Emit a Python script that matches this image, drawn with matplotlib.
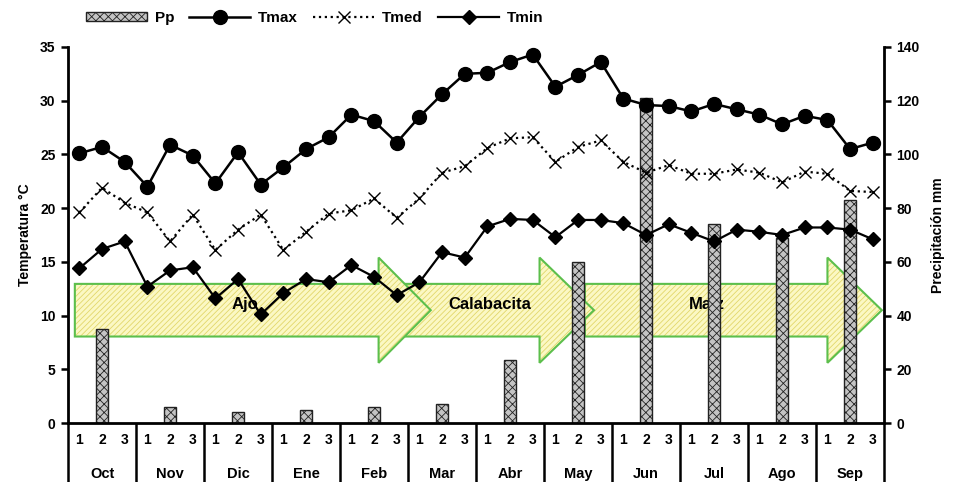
import matplotlib.pyplot as plt
from matplotlib.patches import Polygon
import numpy as np

plt.rcParams['font.family'] = ['Liberation Sans', 'DejaVu Sans']
plt.rcParams['font.weight'] = 'bold'
plt.rcParams['hatch.linewidth'] = 0.6

months = ['Oct', 'Nov', 'Dic', 'Ene', 'Feb', 'Mar', 'Abr', 'May', 'Jun', 'Jul', 'Ago', 'Sep']
dekads = ['1', '2', '3']

tmax = [25.1, 25.7, 24.3, 22.0, 25.9, 24.9, 22.3, 25.2, 22.2, 23.8, 25.5, 26.6,
        28.7, 28.1, 26.1, 28.5, 30.6, 32.5, 32.6, 33.6, 34.3, 31.3, 32.4, 33.6,
        30.2, 29.6, 29.5, 29.0, 29.7, 29.2, 28.7, 27.8, 28.6, 28.2, 25.5, 26.1]
tmed = [19.6, 21.9, 20.5, 19.6, 16.9, 19.4, 16.1, 18.0, 19.4, 16.1, 17.8, 19.5,
        19.8, 20.9, 19.1, 20.9, 23.3, 23.9, 25.6, 26.5, 26.6, 24.3, 25.7, 26.3,
        24.3, 23.3, 24.0, 23.2, 23.2, 23.6, 23.3, 22.4, 23.4, 23.2, 21.6, 21.5]
tmin = [14.4, 16.2, 16.9, 12.7, 14.2, 14.5, 11.6, 13.4, 10.1, 12.1, 13.4, 13.1,
        14.7, 13.6, 11.9, 13.1, 15.9, 15.4, 18.3, 19.0, 18.9, 17.3, 18.9, 18.9,
        18.6, 17.5, 18.5, 17.7, 16.9, 18.0, 17.8, 17.5, 18.2, 18.2, 18.0, 17.1]
pp = [35, 6, 4, 5, 6, 7, 23.5, 60, 121, 74, 69, 83]  # monthly, plotted at dekad 2

crops = ['Ajo', 'Calabacita', 'Maíz']
crop_start = [-0.2, 14.4, 22.3]   # dekad position where the arrow starts
crop_head = [13.2, 20.3, 33.0]    # dekad position where the head begins
crop_tip = [15.5, 22.7, 35.4]     # dekad position of the tip
crop_label_x = [7.3, 18.1, 27.7]

x = np.arange(len(tmax))
xbar = np.arange(len(months)) * 3 + 1

fig = plt.figure(figsize=(9.61, 4.82), dpi=100)
ax = fig.add_axes([0.0708, 0.1224, 0.8492, 0.7801])
ax2 = ax.twinx()

# crop arrows (on ax2, drawn in temperature coordinates, below bars)
yc, bh, hh = 10.5, 2.45, 4.9
for i, name in enumerate(crops):
    x0, xh, xt = crop_start[i], crop_head[i], crop_tip[i]
    pts = [(x0, yc - bh), (x0, yc + bh), (xh, yc + bh), (xh, yc + hh),
           (xt, yc), (xh, yc - hh), (xh, yc - bh)]
    z = 1.5 - i * 0.1
    ax2.add_patch(Polygon(pts, closed=True, facecolor='#fbf8c4', edgecolor='#e2d76a',
                          hatch='//////', linewidth=0, transform=ax.transData, zorder=z))
    ax2.add_patch(Polygon(pts, closed=True, fill=False, edgecolor='#5cbf4c',
                          linewidth=1.5, transform=ax.transData, zorder=z + 0.01))
    ax2.text(crop_label_x[i], yc + 0.5, name, transform=ax.transData, fontsize=12,
             fontweight='bold', ha='center', va='center', zorder=1.8)

bars = ax2.bar(xbar, pp, width=0.5, facecolor='#c4c4c4', edgecolor='#222222',
               hatch='xxxx', linewidth=1.0, zorder=2)

ax.set_zorder(ax2.get_zorder() + 1)
ax.patch.set_visible(False)

l1, = ax.plot(x, tmax, '-', color='black', lw=1.8, marker='o', markersize=10, zorder=5)
l2, = ax.plot(x, tmed, ':', color='black', lw=1.6, marker='x', markersize=9,
              markeredgewidth=1.0, zorder=4)
l3, = ax.plot(x, tmin, '-', color='black', lw=1.6, marker='D', markersize=7.5, zorder=4)

ax.set_xlim(-0.5, len(x) - 0.5)
ax.set_ylim(0, 35)
ax2.set_ylim(0, 140)
ax.set_yticks(np.arange(0, 36, 5))
ax2.set_yticks(np.arange(0, 141, 20))
ax.set_xticks(x)
ax.set_xticklabels(dekads * len(months))
ax.tick_params(axis='x', length=0, pad=7, labelsize=10)
ax.tick_params(axis='y', direction='out', length=5, width=1.8, labelsize=10, pad=4)
ax2.tick_params(axis='y', direction='out', length=5, width=1.8, labelsize=10, pad=4)

for a in (ax, ax2):
    a.spines['top'].set_visible(False)
ax.spines['right'].set_visible(False)
ax2.spines['left'].set_visible(False)
ax2.spines['bottom'].set_visible(False)
ax.spines['left'].set_linewidth(2)
ax.spines['bottom'].set_linewidth(2)
ax2.spines['right'].set_linewidth(2)

# month row and separators under the axis
trans = ax.get_xaxis_transform()
for m, name in enumerate(months):
    ax.text(m * 3 + 1, -0.135, name, transform=trans, ha='center', va='center',
            fontsize=10.5, fontweight='bold')
ax.vlines(np.arange(len(months) + 1) * 3 - 0.5, -0.17, 0, transform=trans,
          colors='black', linewidth=1.8, clip_on=False)

ax.set_ylabel('Temperatura °C', fontsize=10, fontweight='bold', labelpad=6)
ax2.set_ylabel('Precipitación mm', fontsize=10, fontweight='bold', labelpad=8)

fig.legend([bars, l1, l2, l3], ['Pp', 'Tmax', 'Tmed', 'Tmin'], loc='center left',
           bbox_to_anchor=(0.075, 0.963), ncol=4, frameon=False, fontsize=11,
           handlelength=4, handleheight=0.6, columnspacing=1.0, handletextpad=0.5)

fig.savefig('out.png', dpi=100, facecolor='white')
